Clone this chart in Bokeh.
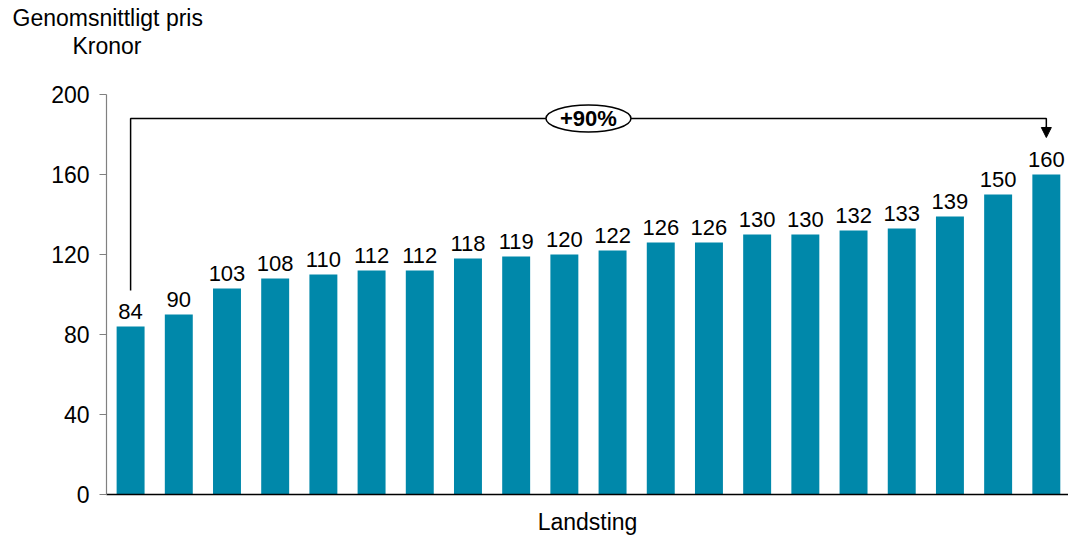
from bokeh.plotting import figure
from bokeh.models import Range1d, Arrow, NormalHead, ColumnDataSource, FixedTicker, Title
from bokeh.core.properties import value
from bokeh.embed import file_html
from bokeh.resources import INLINE

# Data
values = [84, 90, 103, 108, 110, 112, 112, 118, 119, 120, 122, 126, 126, 130, 130, 132, 133, 139, 150, 160]
positions = list(range(len(values)))
labels = [str(v) for v in values]
y_ticks = [0, 40, 80, 120, 160, 200]
title_line1 = "Genomsnittligt pris"
title_line2 = "Kronor"
x_title = "Landsting"
change_label = "+90%"

FONT = "Liberation Sans"
BAR_COLOR = "#0088AA"

p = figure(width=1068, height=539, output_backend="svg", toolbar_location=None,
           x_range=Range1d(-0.5, 19.46), y_range=Range1d(0, 200),
           min_border_left=106, min_border_right=0, min_border_top=94, min_border_bottom=45)
p.outline_line_color = None
p.grid.visible = False

# titles: p.title is outermost; added Titles stack between it and the frame
p.title.text = title_line1
p.title.align = "left"
p.title.offset = -94
p.title.text_font = FONT
p.title.text_font_size = "23px"
p.title.text_font_style = "normal"
p.title.text_color = "#000000"
p.title.standoff = 0
p.add_layout(Title(text=" ", text_font_size="2px", standoff=32), "above")
p.add_layout(Title(text=title_line2, align="left", offset=-34, text_font=FONT,
                   text_font_size="23px", text_font_style="normal", text_color="#000000",
                   standoff=0), "above")

src = ColumnDataSource(dict(x=positions, top=values, label=labels))
p.vbar(x="x", top="top", width=0.58, bottom=0, source=src, color=BAR_COLOR, line_color=None)
p.text(x="x", y="top", text="label", source=src, text_align="center", text_baseline="bottom",
       y_offset=-8, text_font=value(FONT), text_font_size="22px", text_color="#000000")

# y axis
ax = p.yaxis[0]
ax.ticker = FixedTicker(ticks=y_ticks)
ax.bounds = (0, 200)
ax.axis_line_color = "#808080"
ax.axis_line_width = 1.2
ax.major_tick_line_color = "#808080"
ax.major_tick_out = 7
ax.major_tick_in = 0
ax.minor_tick_line_color = None
ax.major_label_text_font = FONT
ax.major_label_text_font_size = "23px"
ax.major_label_text_color = "#000000"
ax.major_label_standoff = 10

# x axis: line only
xa = p.xaxis[0]
xa.ticker = FixedTicker(ticks=[])
xa.axis_line_color = "#000000"
xa.axis_line_width = 1.5
xa.major_tick_line_color = None
xa.minor_tick_line_color = None
xa.major_tick_out = 0
xa.major_label_text_font_size = "0px"
xa.major_label_standoff = 0

# x title below, with a spacer between it and the axis
p.add_layout(Title(text=" ", text_font_size="2px", standoff=8), "below")
p.add_layout(Title(text=x_title, align="center", text_font=FONT, text_font_size="23px",
                   text_font_style="normal", text_color="#000000", standoff=0), "below")

# bracket
first, last = positions[0], positions[-1]
p.line(x=[first, first, last, last], y=[102, 188, 188, 183], line_color="#000000", line_width=1.5)
p.add_layout(Arrow(end=NormalHead(size=10, fill_color="#000000", line_color="#000000"),
                   x_start=last, y_start=184, x_end=last, y_end=178.5,
                   line_color="#000000", line_width=1.5))
mid = (first + last) / 2
p.ellipse(x=[mid], y=[188], width=85, height=27, width_units="screen", height_units="screen",
          fill_color="#ffffff", line_color="#000000", line_width=1.5)
p.text(x=[mid], y=[188], text=[change_label], text_align="center", text_baseline="middle",
       text_font=value(FONT), text_font_size="22px", text_font_style="bold", text_color="#000000")

open("out.html", "w").write(file_html(p, INLINE))
